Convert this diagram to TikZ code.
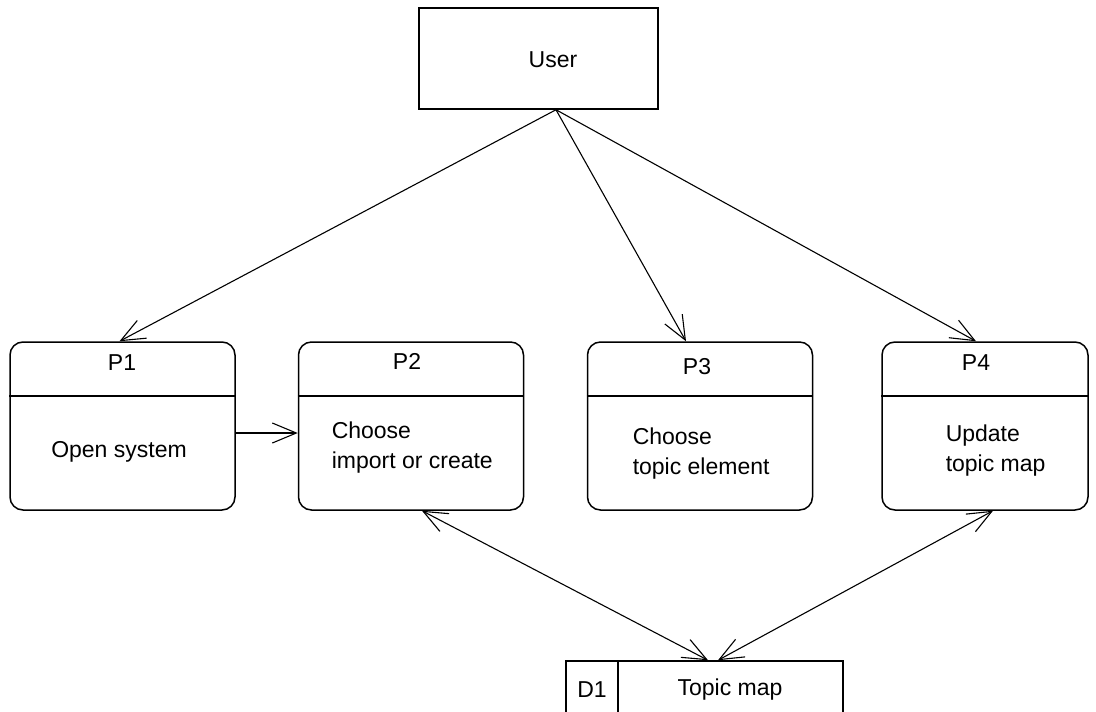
\documentclass[tikz,border=0pt]{standalone}
\usepackage{fontspec}
\setmainfont{Liberation Sans}
\usetikzlibrary{arrows.meta,calc}
\begin{document}
\begin{tikzpicture}[x=1pt,y=-1pt,
  line width=1.5pt,
  every node/.style={font=\fontsize{23}{30}\selectfont, inner sep=0pt},
  proc/.style={draw, rounded corners=13pt, minimum width=225pt, minimum height=168pt},
  ptext/.style={align=left, anchor=west},
  tip/.tip={Straight Barb[length=24pt,width=20pt,line width=1.1pt]},
  flow/.style={-tip, line width=1.1pt},
  bflow/.style={tip-tip, line width=1.1pt}
]
\clip (0,0) rectangle (1096,712);
\fill[white] (0,0) rectangle (1096,712);

% User
\node[draw, minimum width=239pt, minimum height=101pt] (user) at (538.5,58.5) {};
\node (usert) at (553,60) {User};

% Processes
\node[proc] (p1) at (122.5,426) {};
\node[proc] (p2) at (411,426) {};
\node[proc] (p3) at (700,426) {};
\node[proc, minimum width=206pt] (p4) at (985,426) {};
\foreach \p in {p1,p2,p3,p4}{
  \draw (\p.west |- 0,396) -- (\p.east |- 0,396);
}
\node (p1t) at (122,363) {P1};
\node (p2t) at (407,361) {P2};
\node (p3t) at (697,367) {P3};
\node (p4t) at (976,363) {P4};
\node (p1b) at (119,452) {Open system};
\node[ptext] (p2b) at (331,448) {Choose\\import or create};
\node[ptext] (p3b) at (632,454) {Choose\\topic element};
\node[ptext] (p4b) at (945,451) {Update\\topic map};

% Data store
\node[draw, minimum width=277pt, minimum height=69pt] (d1) at (704.5,695.5) {};
\draw (618,661) -- (618,730);
\node (d1t) at (592,690) {D1};
\node (d1b) at (730,690) {Topic map};

% Connectors
\draw[flow] ([xshift=17.5pt]user.south) -- ([xshift=-3pt]p1.north);
\draw[flow] ([xshift=17.5pt]user.south) -- ([xshift=-14pt]p3.north);
\draw[flow] ([xshift=17.5pt]user.south) -- ([xshift=-9pt]p4.north);
\draw[flow] (p1.east |- 0,433) -- (p2.west |- 0,433);
\draw[bflow] ([xshift=11pt]p2.south) -- ([xshift=3.5pt]d1.north);
\draw[bflow] ([xshift=8pt]p4.south) -- ([xshift=13.5pt]d1.north);
\end{tikzpicture}
\end{document}
